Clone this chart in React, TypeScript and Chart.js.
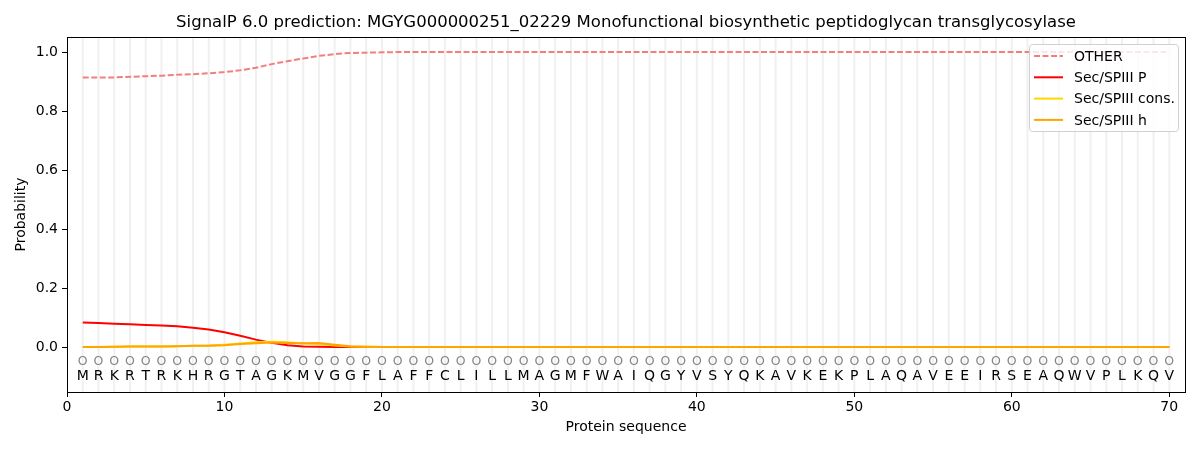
import React, { useEffect, useRef } from 'react';
import { Chart, registerables } from 'chart.js';

Chart.register(...registerables);

const TITLE = 'SignalP 6.0 prediction: MGYG000000251_02229 Monofunctional biosynthetic peptidoglycan transglycosylase';

const residues = [
  'M', 'R', 'K', 'R', 'T', 'R', 'K', 'H', 'R', 'G',
  'T', 'A', 'G', 'K', 'M', 'V', 'G', 'G', 'F', 'L',
  'A', 'F', 'F', 'C', 'L', 'I', 'L', 'L', 'M', 'A',
  'G', 'M', 'F', 'W', 'A', 'I', 'Q', 'G', 'Y', 'V',
  'S', 'Y', 'Q', 'K', 'A', 'V', 'K', 'E', 'K', 'P',
  'L', 'A', 'Q', 'A', 'V', 'E', 'E', 'I', 'R', 'S',
  'E', 'A', 'Q', 'W', 'V', 'P', 'L', 'K', 'Q', 'V',
];

const other = [
  0.914, 0.914, 0.914, 0.916, 0.918, 0.920, 0.923, 0.925, 0.928, 0.932,
  0.938, 0.947, 0.959, 0.969, 0.978, 0.987, 0.993, 0.997, 0.998, 0.999,
  1, 1, 1, 1, 1, 1, 1, 1, 1, 1,
  1, 1, 1, 1, 1, 1, 1, 1, 1, 1,
  1, 1, 1, 1, 1, 1, 1, 1, 1, 1,
  1, 1, 1, 1, 1, 1, 1, 1, 1, 1,
  1, 1, 1, 1, 1, 1, 1, 1, 1, 1,
];

const secP = [
  0.083, 0.081, 0.079, 0.077, 0.075, 0.073, 0.070, 0.065, 0.059, 0.050,
  0.038, 0.025, 0.014, 0.006, 0.002, 0.001, 0, 0, 0, 0,
  0, 0, 0, 0, 0, 0, 0, 0, 0, 0,
  0, 0, 0, 0, 0, 0, 0, 0, 0, 0,
  0, 0, 0, 0, 0, 0, 0, 0, 0, 0,
  0, 0, 0, 0, 0, 0, 0, 0, 0, 0,
  0, 0, 0, 0, 0, 0, 0, 0, 0, 0,
];

const secCons = [
  0, 0, 0.001, 0.002, 0.002, 0.002, 0.003, 0.004, 0.005, 0.008,
  0.012, 0.016, 0.018, 0.016, 0.012, 0.010, 0.005, 0.002, 0.001, 0,
  0, 0, 0, 0, 0, 0, 0, 0, 0, 0,
  0, 0, 0, 0, 0, 0, 0, 0, 0, 0,
  0, 0, 0, 0, 0, 0, 0, 0, 0, 0,
  0, 0, 0, 0, 0, 0, 0, 0, 0, 0,
  0, 0, 0, 0, 0, 0, 0, 0, 0, 0,
];

const secH = [
  0, 0, 0.001, 0.002, 0.002, 0.002, 0.003, 0.004, 0.004, 0.006,
  0.010, 0.013, 0.015, 0.014, 0.013, 0.014, 0.008, 0.003, 0.001, 0,
  0, 0, 0, 0, 0, 0, 0, 0, 0, 0,
  0, 0, 0, 0, 0, 0, 0, 0, 0, 0,
  0, 0, 0, 0, 0, 0, 0, 0, 0, 0,
  0, 0, 0, 0, 0, 0, 0, 0, 0, 0,
  0, 0, 0, 0, 0, 0, 0, 0, 0, 0,
];

const xTicks = [0, 10, 20, 30, 40, 50, 60, 70];
const yTicks = [0, 0.2, 0.4, 0.6, 0.8, 1.0];

const FONT = '"DejaVu Sans", sans-serif';

const toPoints = (vals: number[]) => vals.map((v, i) => ({ x: i + 1, y: v }));

// background grid, sequence labels, frame, title and legend
const decorPlugin = {
  id: 'decor',
  beforeDatasetsDraw(chart: any) {
    const { ctx, chartArea, scales } = chart;
    ctx.save();
    ctx.strokeStyle = '#f0f0f0';
    ctx.lineWidth = 2;
    residues.forEach((_, i) => {
      const px = scales.x.getPixelForValue(i + 1);
      ctx.beginPath();
      ctx.moveTo(px, chartArea.top);
      ctx.lineTo(px, chartArea.bottom);
      ctx.stroke();
    });
    ctx.restore();
  },
  afterDatasetsDraw(chart: any) {
    const { ctx, chartArea, scales } = chart;
    ctx.save();
    ctx.textAlign = 'center';
    ctx.textBaseline = 'middle';
    residues.forEach((r, i) => {
      const px = scales.x.getPixelForValue(i + 1);
      ctx.fillStyle = '#858585';
      ctx.font = `12.5px ${FONT}`;
      ctx.fillText('O', px, scales.y.getPixelForValue(-0.05));
      ctx.fillStyle = '#000';
      ctx.font = `14px ${FONT}`;
      ctx.fillText(r, px, scales.y.getPixelForValue(-0.1));
    });

    // frame
    ctx.strokeStyle = '#000';
    ctx.lineWidth = 1;
    ctx.strokeRect(
      Math.round(chartArea.left) + 0.5,
      Math.round(chartArea.top) + 0.5,
      Math.round(chartArea.right - chartArea.left),
      Math.round(chartArea.bottom - chartArea.top)
    );

    // title
    ctx.fillStyle = '#000';
    ctx.font = `16.5px ${FONT}`;
    ctx.fillText(TITLE, (chartArea.left + chartArea.right) / 2, 23);

    // legend
    const bx = 1029, by = 44, bw = 149, bh = 87;
    ctx.beginPath();
    ctx.roundRect(bx + 0.5, by + 0.5, bw, bh, 3);
    ctx.fillStyle = 'rgba(255,255,255,0.8)';
    ctx.fill();
    ctx.strokeStyle = '#d0d0d0';
    ctx.stroke();
    ctx.textAlign = 'left';
    ctx.font = `14px ${FONT}`;
    chart.data.datasets.forEach((ds: any, i: number) => {
      const ly = 56 + i * 21.3;
      ctx.beginPath();
      ctx.setLineDash(ds.borderDash || []);
      ctx.strokeStyle = ds.borderColor;
      ctx.lineWidth = 2;
      ctx.moveTo(1034, ly);
      ctx.lineTo(1063, ly);
      ctx.stroke();
      ctx.setLineDash([]);
      ctx.fillStyle = '#000';
      ctx.fillText(ds.label, 1074, ly + 1);
    });
    ctx.restore();
  },
};

const App: React.FC = () => {
  const canvasRef = useRef<HTMLCanvasElement | null>(null);

  useEffect(() => {
    if (!canvasRef.current) return;
    const chart = new Chart(canvasRef.current, {
      type: 'line',
      data: {
        datasets: [
          {
            label: 'OTHER',
            data: toPoints(other),
            borderColor: 'rgba(240,128,128,1)',
            borderDash: [6, 2.5],
            borderWidth: 2,
            pointRadius: 0,
            order: 3,
          },
          {
            label: 'Sec/SPIII P',
            data: toPoints(secP),
            borderColor: '#ff0000',
            borderWidth: 2,
            pointRadius: 0,
            order: 2,
          },
          {
            label: 'Sec/SPIII cons.',
            data: toPoints(secCons),
            borderColor: '#ffd700',
            borderWidth: 2,
            pointRadius: 0,
            order: 1,
          },
          {
            label: 'Sec/SPIII h',
            data: toPoints(secH),
            borderColor: '#ffa500',
            borderWidth: 2,
            pointRadius: 0,
            order: 0,
          },
        ],
      },
      options: {
        responsive: false,
        animation: false,
        devicePixelRatio: 1,
        layout: { padding: { top: 37, right: 15, left: 0, bottom: 0 } },
        plugins: {
          legend: { display: false },
          title: { display: false },
          tooltip: { enabled: false },
        },
        scales: {
          x: {
            type: 'linear',
            min: 0,
            max: 71,
            border: { display: false },
            grid: { drawOnChartArea: false, drawTicks: true, tickLength: 5, color: '#000' },
            afterBuildTicks: (s: any) => { s.ticks = xTicks.map((v) => ({ value: v })); },
            afterFit: (s: any) => { s.height = 58; },
            ticks: {
              color: '#000',
              font: { family: FONT, size: 14 },
              padding: 2,
              maxRotation: 0,
              callback: (v: any) => String(v),
            },
            title: {
              display: true,
              text: 'Protein sequence',
              color: '#000',
              font: { family: FONT, size: 14 },
              padding: { top: 0, bottom: 14 },
            },
          },
          y: {
            type: 'linear',
            min: -0.1525,
            max: 1.051,
            border: { display: false },
            grid: { drawOnChartArea: false, drawTicks: true, tickLength: 5, color: '#000' },
            afterBuildTicks: (s: any) => { s.ticks = yTicks.map((v) => ({ value: v })); },
            afterFit: (s: any) => { s.width = 67; },
            ticks: {
              color: '#000',
              font: { family: FONT, size: 14 },
              padding: 4,
              callback: (v: any) => Number(v).toFixed(1),
            },
            title: {
              display: true,
              text: 'Probability',
              color: '#000',
              font: { family: FONT, size: 14 },
              padding: { top: 13, bottom: 0 },
            },
          },
        },
      },
      plugins: [decorPlugin],
    });
    return () => {
      chart.destroy();
    };
  }, []);

  return (
    <div style={{ position: 'fixed', left: 0, top: 0, width: 1200, height: 450, background: '#fff' }}>
      <canvas ref={canvasRef} width={1200} height={450} />
    </div>
  );
};

export default App;
